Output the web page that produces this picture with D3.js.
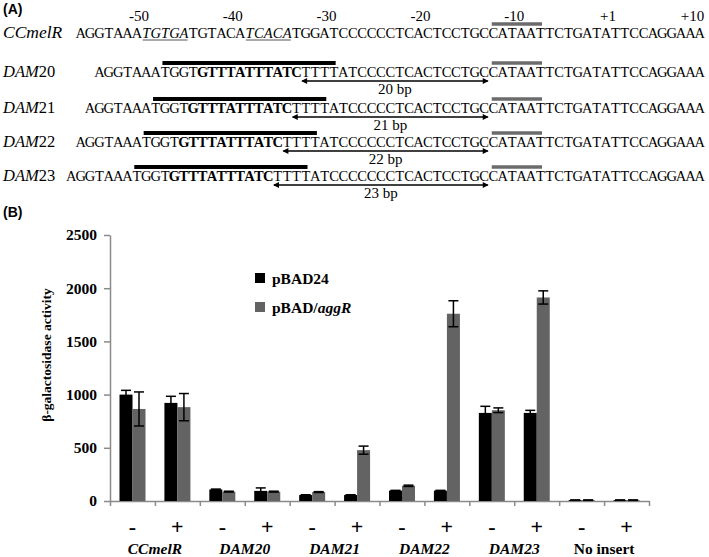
<!DOCTYPE html>
<html lang="en">
<head>
<meta charset="utf-8">
<title>CCmelR / DAM promoters</title>
<style>
  body { margin: 0; background: #fff; }
  svg { display: block; }
  .serif { font-family: "Liberation Serif", "Times New Roman", serif; }
  .panel { font-family: "Liberation Sans", Arial, sans-serif; font-weight: bold; font-size: 14px; }
  .axis path, .axis line { stroke: #8a8a8a; stroke-width: 1.5px; }
</style>
</head>
<body>
<svg id="fig" width="709" height="557"></svg>
<script src="https://cdnjs.cloudflare.com/ajax/libs/d3/7.8.5/d3.min.js"></script>
<script>

// ---- panel A data ----
var rowNames = ["CCmelR", "DAM20", "DAM21", "DAM22", "DAM23"];
var rowSeqs = [
  "AGGTAAATGTGATGTACATCACATGGATCCCCCCTCACTCCTGCCATAATTCTGATATTCCAGGAAA",
  "AGGTAAATGGTGTTTATTTATCTTTTATCCCCTCACTCCTGCCATAATTCTGATATTCCAGGAAA",
  "AGGTAAATGGTGTTTATTTATCTTTTATCCCCCTCACTCCTGCCATAATTCTGATATTCCAGGAAA",
  "AGGTAAATGGTGTTTATTTATCTTTTATCCCCCCTCACTCCTGCCATAATTCTGATATTCCAGGAAA",
  "AGGTAAATGGTGTTTATTTATCTTTTATCCCCCCCTCACTCCTGCCATAATTCTGATATTCCAGGAAA"
];
var spacerLabels = ["", "20 bp", "21 bp", "22 bp", "23 bp"];
var positions = [-50, -40, -30, -20, -10, 1, 10];
var halfSites = ["TGTGA", "TCACA"];
var boxMotif = "GTTTATTTATC";
var minus10 = "CATAAT";

// ---- panel B data ----
var groups = ["CCmelR", "DAM20", "DAM21", "DAM22", "DAM23", "No insert"];
var signs = ["-", "+"];
var seriesNames = ["pBAD24", "pBAD/aggR"];
var pBAD24    = [1000, 922, 108, 95, 56, 56, 97, 97, 828, 828, 8, 8];
var pBAD24Err = [40, 62, 4, 28, 3, 3, 3, 3, 62, 24, 2, 2];
var pBADaggR    = [865, 882, 88, 88, 84, 478, 143, 1760, 853, 1913, 8, 8];
var pBADaggRErr = [160, 128, 4, 4, 4, 38, 6, 122, 22, 62, 2, 2];
var yTicks = [0, 500, 1000, 1500, 2000, 2500];

var svg = d3.select("#fig");

// ================= panel A =================
svg.append("text").attr("class", "panel").attr("x", 3).attr("y", 14).text("(A)");

var baselines = [38, 77, 113, 147, 181];
var ncol = rowSeqs[0].length;
var col = d3.scaleLinear().domain([0, ncol]).range([76, 704.5]);
var cw = col(1) - col(0);
// align every sequence on the -10 box of CCmelR
var refM10 = rowSeqs[0].indexOf(minus10);
function posToCol(p) { return p < 0 ? refM10 + 12 + p : refM10 + 11 + p; }

var A = svg.append("g").attr("class", "serif");

A.selectAll("text.pos")
  .data(positions)
  .enter().append("text")
  .attr("class", "pos")
  .attr("x", function(d) { return col(posToCol(d)) + cw / 2 + 2; })
  .attr("y", 21)
  .attr("text-anchor", "middle")
  .attr("font-size", 15)
  .text(function(d) { return d > 0 ? "+" + d : d; });

rowSeqs.forEach(function(seq, r) {
  var by = baselines[r];
  var off = refM10 - seq.indexOf(minus10);
  var g = A.append("g");

  // row label
  var lab = g.append("text").attr("x", 3).attr("y", by).attr("font-size", r === 0 ? 17.5 : 16.5);
  if (r === 0) {
    lab.append("tspan").attr("font-style", "italic").text(rowNames[r]);
  } else {
    lab.append("tspan").attr("font-style", "italic").text(rowNames[r].slice(0, 3));
    lab.append("tspan").text(rowNames[r].slice(3));
  }

  var italic = [];
  halfSites.forEach(function(h) {
    var i = seq.indexOf(h);
    if (r === 0 && i >= 0) italic.push([i, i + h.length]);
  });
  var bStart = seq.indexOf(boxMotif);
  var bEnd = bStart >= 0 ? bStart + boxMotif.length : -1;

  var chars = seq.split("").map(function(ch, i) {
    return {
      ch: ch, c: off + i,
      bold: i >= bStart && i < bEnd,
      it: italic.some(function(s) { return i >= s[0] && i < s[1]; })
    };
  });

  g.selectAll("text.nt")
    .data(chars)
    .enter().append("text")
    .attr("class", "nt")
    .attr("x", function(d) { return col(d.c) + cw / 2; })
    .attr("y", by)
    .attr("text-anchor", "middle")
    .attr("font-size", 14.5)
    .attr("font-weight", function(d) { return d.bold ? "bold" : null; })
    .attr("font-style", function(d) { return d.it ? "italic" : null; })
    .text(function(d) { return d.ch; });

  // underlines for the CRP half sites
  g.selectAll("line.ul")
    .data(italic)
    .enter().append("line")
    .attr("x1", function(d) { return col(off + d[0]) + 1; })
    .attr("x2", function(d) { return col(off + d[1]) - 1; })
    .attr("y1", by + 2).attr("y2", by + 2)
    .attr("stroke", "#555").attr("stroke-width", 1);

  // -10 box marker
  var m = seq.indexOf(minus10) + off;
  g.append("line")
    .attr("x1", col(m) + 3).attr("x2", col(m + minus10.length) - 3)
    .attr("y1", by - 14).attr("y2", by - 14)
    .attr("stroke", "#6b6b6b").attr("stroke-width", 3.5);

  if (bStart >= 0) {
    // AggR binding site bar
    g.append("line")
      .attr("x1", col(off + bStart - 4) + 2).attr("x2", col(off + bEnd + 4) - 3)
      .attr("y1", by - 14).attr("y2", by - 14)
      .attr("stroke", "#000").attr("stroke-width", 4);

    // spacer double arrow
    var ax1 = col(off + bEnd), ax2 = col(m);
    var ay = by + 4;
    g.append("line").attr("x1", ax1 + 1).attr("x2", ax2 - 1)
      .attr("y1", ay).attr("y2", ay).attr("stroke", "#000").attr("stroke-width", 1.5);
    g.append("path")
      .attr("d", "M" + ax1 + "," + ay + "l6,-3l0,6z M" + ax2 + "," + ay + "l-6,-3l0,6z")
      .attr("fill", "#000");
    g.append("text")
      .attr("x", (ax1 + ax2) / 2)
      .attr("y", by + 17)
      .attr("text-anchor", "middle")
      .attr("font-size", 15)
      .text(spacerLabels[r]);
  }
});

// ================= panel B =================
svg.append("text").attr("class", "panel").attr("x", 3).attr("y", 217).text("(B)");

var cats = [];
groups.forEach(function(gname) { signs.forEach(function(s) { cats.push(gname + s); }); });

var x = d3.scaleBand().domain(cats).range([110, 649]);
var xs = d3.scaleBand().domain(seriesNames).range([9.5, 35.5]);
var xEdge = d3.scaleLinear().domain([0, cats.length]).range([110, 649]);
var y = d3.scaleLinear().domain([0, 2500]).range([501, 235]);
var color = d3.scaleOrdinal().domain(seriesNames).range(["#000000", "#636363"]);

var B = svg.append("g");

var yAxis = B.append("g")
  .attr("class", "axis")
  .attr("transform", "translate(110,0)")
  .call(d3.axisLeft(y).tickValues(yTicks).tickFormat(d3.format("d"))
    .tickSize(6).tickSizeOuter(0).tickPadding(7));
yAxis.selectAll("text")
  .attr("font-family", "Liberation Serif, Times New Roman, serif")
  .attr("font-weight", "bold")
  .attr("font-size", 15.5)
  .attr("fill", "#000");

B.append("g")
  .attr("class", "axis")
  .attr("transform", "translate(0,501)")
  .call(d3.axisBottom(xEdge).ticks(cats.length).tickSize(5).tickSizeOuter(0).tickFormat(""));

var rows = cats.map(function(c, i) {
  return [
    { cat: c, s: seriesNames[0], v: pBAD24[i], e: pBAD24Err[i] },
    { cat: c, s: seriesNames[1], v: pBADaggR[i], e: pBADaggRErr[i] }
  ];
});
var bars = d3.merge(rows);

B.append("g").selectAll("rect")
  .data(bars)
  .enter().append("rect")
  .attr("x", function(d) { return x(d.cat) + xs(d.s); })
  .attr("width", xs.bandwidth())
  .attr("y", function(d) { return y(d.v); })
  .attr("height", function(d) { return y(0) - y(d.v); })
  .attr("fill", function(d) { return color(d.s); });

var err = B.append("g").attr("stroke", "#000").attr("stroke-width", 1.5)
  .selectAll("g").data(bars).enter().append("g")
  .attr("transform", function(d) { return "translate(" + (x(d.cat) + xs(d.s) + xs.bandwidth() / 2) + ",0)"; });
err.append("line")
  .attr("y1", function(d) { return y(d.v + d.e); })
  .attr("y2", function(d) { return y(Math.max(0, d.v - d.e)); });
err.append("line").attr("x1", -5).attr("x2", 5)
  .attr("y1", function(d) { return y(d.v + d.e); })
  .attr("y2", function(d) { return y(d.v + d.e); });
err.append("line").attr("x1", -5).attr("x2", 5)
  .attr("y1", function(d) { return y(Math.max(0, d.v - d.e)); })
  .attr("y2", function(d) { return y(Math.max(0, d.v - d.e)); });

// sign labels
B.selectAll("text.sign")
  .data(cats)
  .enter().append("text")
  .attr("class", "serif sign")
  .attr("x", function(d) { return x(d) + x.bandwidth() / 2; })
  .attr("y", 534)
  .attr("text-anchor", "middle")
  .attr("font-size", 22)
  .attr("font-weight", "bold")
  .text(function(d, i) { return signs[i % 2]; });

// group labels
var gl = B.selectAll("text.grp")
  .data(groups)
  .enter().append("text")
  .attr("class", "serif grp")
  .attr("x", function(d, i) { return xEdge(i * 2 + 1); })
  .attr("y", 554)
  .attr("text-anchor", "middle")
  .attr("font-size", 15.5)
  .attr("font-weight", "bold");
gl.each(function(d) {
  var t = d3.select(this);
  if (d === "No insert") { t.text(d); return; }
  t.append("tspan").attr("font-style", "italic").text(d);
});

// y label
B.append("text")
  .attr("class", "serif")
  .attr("transform", "translate(51,355) rotate(-90)")
  .attr("text-anchor", "middle")
  .attr("font-size", 13.5)
  .attr("font-weight", "bold")
  .text("\u03b2-galactosidase activity");

// legend
var lg = B.append("g").attr("class", "serif").attr("font-weight", "bold").attr("font-size", 15.5)
  .selectAll("g").data(seriesNames).enter().append("g")
  .attr("transform", function(d, i) { return "translate(255," + (273 + i * 29) + ")"; });
lg.append("rect").attr("width", 10).attr("height", 10).attr("fill", function(d) { return color(d); });
lg.append("text").attr("x", 17).attr("y", 11).each(function(d) {
  var t = d3.select(this);
  var k = d.indexOf("/");
  if (k < 0) { t.text(d); return; }
  t.append("tspan").text(d.slice(0, k + 1));
  t.append("tspan").attr("font-style", "italic").text(d.slice(k + 1));
});

</script>
</body>
</html>
